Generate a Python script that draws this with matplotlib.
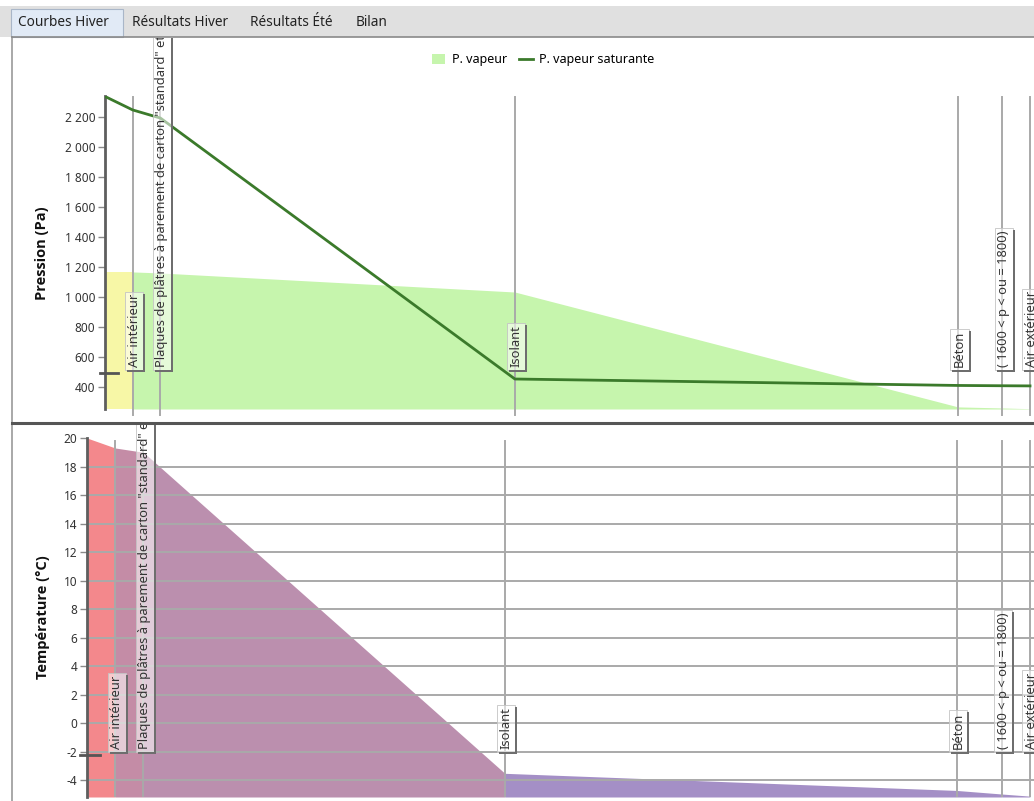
import matplotlib.pyplot as plt
import matplotlib.transforms as mtransforms
from matplotlib.patches import Rectangle, Patch
from matplotlib.lines import Line2D

plt.rcParams['font.family'] = ['Noto Sans', 'DejaVu Sans']

# Layer boundaries across the wall (mm), from inside to outside
positions = [0, 12.5, 25, 185, 385, 405, 417.5]
layer_names = ["Air intérieur",
               'Plaques de plâtres à parement de carton "standard" et à bords amincis',
               "Isolant", "Béton", "( 1600 < p < ou = 1800)", "Air extérieur"]

# Pressures (Pa)
p_vapour = [1167, 1167, 1160, 1033, 267, 260, 255]
p_saturation = [2337, 2247, 2193, 453, 410, 408, 407]
pressure_ticks = [400, 600, 800, 1000, 1200, 1400, 1600, 1800, 2000, 2200]

# Temperatures (°C)
temperature = [20, 19.3, 19.0, -3.5, -4.7, -4.95, -5.1]
temperature_ticks = [-4, -2, 0, 2, 4, 6, 8, 10, 12, 14, 16, 18, 20]

tabs = ["Courbes Hiver", "Résultats Hiver", "Résultats Été", "Bilan"]

W, H = 1034, 801
fig = plt.figure(figsize=(W / 100, H / 100), dpi=100)
fig.patch.set_facecolor('white')


def px(x, y, w, h):
    # pixel box (top-left origin) -> figure fraction
    return [x / W, 1 - (y + h) / H, w / W, h / H]


# --- tab strip ---
fig.patches.append(Rectangle((0, 1 - 37 / H), 1, 31 / H, transform=fig.transFigure,
                             fc='#e0e0e0', ec='none', zorder=0))
fig.patches.append(Rectangle((11 / W, 1 - 37 / H), 112 / W, 28 / H, transform=fig.transFigure,
                             fc='#e1eaf6', ec='#a9b6c8', lw=0.8, zorder=1))
for name, xpos in zip(tabs, [18, 132, 250, 356]):
    fig.text(xpos / W, 1 - 23 / H, name, fontsize=9.8, color='#222222', va='center', ha='left')

# panel frame and separator
fig.add_artist(Line2D([12 / W, 12 / W], [0, 1 - 37 / H], transform=fig.transFigure, color='#9a9a9a', lw=1.2))
fig.add_artist(Line2D([12 / W, 1], [1 - 37 / H, 1 - 37 / H], transform=fig.transFigure, color='#8a8a8a', lw=1.2))
fig.add_artist(Line2D([12 / W, 1], [1 - 423.5 / H, 1 - 423.5 / H], transform=fig.transFigure,
                      color='#555555', lw=2.2, zorder=10))

top_clip = Rectangle((13 / W, 1 - 422 / H), 1, (422 - 38) / H, transform=fig.transFigure)
bot_clip = Rectangle((13 / W, 0), 1, 1 - 425 / H, transform=fig.transFigure)

grey = '#a9a9a9'
axis_col = '#5e5e5e'
xmax = 419.3
label_texts = []


def style_axis(ax, ticks, labels, ylim):
    ax.set_xlim(0, xmax)
    ax.set_ylim(*ylim)
    for s in ax.spines.values():
        s.set_visible(False)
    ax.set_xticks([])
    ax.set_yticks(ticks)
    ax.set_yticklabels(labels)
    ax.tick_params(axis='y', length=5, width=1, color='#8a8a8a', labelsize=8.5,
                   labelcolor='#333333', pad=2)
    ax.patch.set_alpha(0)


def draw_labels(ax, base, clip):
    offset = mtransforms.offset_copy(ax.transData, fig=fig, x=1.5, y=0, units='dots')
    for xv, name in zip(positions[1:], layer_names):
        t = ax.text(xv, base, name, rotation=90, ha='center', va='bottom', fontsize=9.3,
                    color='#333333', transform=offset, zorder=5,
                    bbox=dict(boxstyle='square,pad=0.2', fc=(1, 1, 1, 0.55), ec='#c4c4c4', lw=0.6))
        t.set_clip_on(True)
        t.set_clip_path(clip)
        label_texts.append((t, clip))


# --- pressure panel ---
ax1 = fig.add_axes(px(105, 96, W - 105, 319))
p_low = 253
style_axis(ax1, pressure_ticks, [f"{v:,}".replace(',', ' ') for v in pressure_ticks], (213, 2340))

ax1.fill_between(positions[:2], p_vapour[:2], p_low, color='#f7f7a6', lw=0, zorder=1)
ax1.fill_between(positions[1:], p_vapour[1:], p_low, color='#c6f5ad', lw=0, zorder=1)
for xv in positions[1:]:
    ax1.plot([xv, xv], [213, 2333], color=grey, lw=1.4, zorder=2, clip_on=False)
ax1.plot([0, 0], [p_low, 2337], color=axis_col, lw=2, zorder=3, clip_on=False)
ax1.plot(positions, p_saturation, color='#3b7a2b', lw=2, zorder=3)
ax1.plot([-2.3, 5.9], [493, 493], color='#555555', lw=2, zorder=3, clip_on=False)
draw_labels(ax1, 530, top_clip)

fig.legend(handles=[Patch(fc='#c6f5ad', ec='none', label='P. vapeur'),
                    Line2D([], [], color='#3b7a2b', lw=2, label='P. vapeur saturante')],
           loc='center', bbox_to_anchor=(543 / W, 1 - 60 / H), ncol=2, frameon=False,
           fontsize=9, handlelength=1.1, handleheight=0.9, columnspacing=1.0, handletextpad=0.5)
fig.text(42 / W, 1 - 253 / H, "Pression (Pa)", rotation=90, fontsize=10.5, fontweight='bold',
         family='Open Sans', ha='center', va='center', color='#111111')

# --- temperature panel ---
ax2 = fig.add_axes(px(87, 438, W - 87, 359))
t_low = -5.16
style_axis(ax2, temperature_ticks, [str(v) for v in temperature_ticks], (t_low, 20))

fill_cols = ['#f3888c', '#c48ca6', '#bb8fae', '#a48fc6', '#a48fc6', '#a48fc6']
for i, c in enumerate(fill_cols):
    ax2.fill_between(positions[i:i + 2], temperature[i:i + 2], t_low, color=c, lw=0, zorder=1)
for v in temperature_ticks[:-1]:
    ax2.axhline(v, color=grey, lw=1.4, zorder=2)
for xv in positions[1:]:
    ax2.plot([xv, xv], [t_low, 19.8], color=grey, lw=1.4, zorder=2)
ax2.plot([0, 0], [t_low, 20], color=axis_col, lw=2, zorder=3, clip_on=False)
ax2.plot([-3.1, 5.8], [-2.2, -2.2], color='#555555', lw=2, zorder=3, clip_on=False)
draw_labels(ax2, -1.8, bot_clip)

fig.text(43 / W, 1 - 617 / H, "Température (°C)", rotation=90, fontsize=10.5, fontweight='bold',
         family='Open Sans', ha='center', va='center', color='#111111')

# drop shadows along the right and bottom edges of each label box
fig.canvas.draw()
renderer = fig.canvas.get_renderer()
for t, clip in label_texts:
    bb = t.get_bbox_patch().get_window_extent(renderer)
    for r in (Rectangle((bb.x1, bb.y0 - 2), 2, bb.height, transform=None),
              Rectangle((bb.x0 + 2, bb.y0 - 2), bb.width, 2, transform=None)):
        r.set_facecolor('#6e6e6e')
        r.set_edgecolor('none')
        r.set_zorder(6)
        r.set_clip_path(clip)
        fig.add_artist(r)

fig.savefig('out.png', dpi=100)
